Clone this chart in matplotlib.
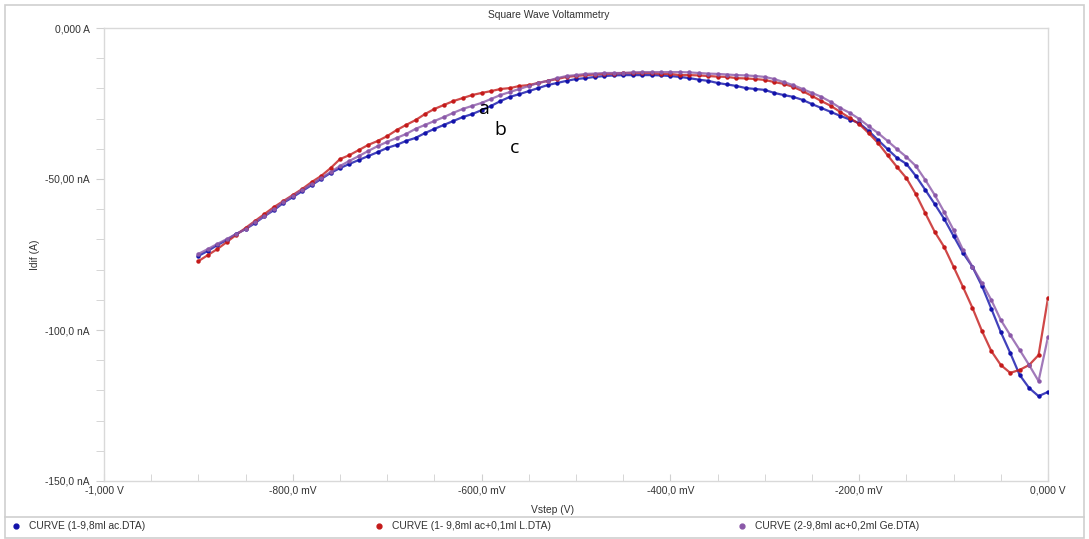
import numpy as np
import matplotlib
matplotlib.use("Agg")
import matplotlib.pyplot as plt
from matplotlib.patches import Rectangle
from matplotlib.lines import Line2D
from matplotlib.ticker import FixedLocator, MultipleLocator

# Step potential (mV), 10 mV grid from -900 mV to 0 mV
vstep_mv = np.arange(-900, 1, 10)

# Differential current (nA) for each curve
idif_ac = [
    -75.5, -73.8, -71.9, -70.2, -68.2, -66.6, -64.6, -62.3, -60.3, -57.9,
    -56.0, -54.0, -52.0, -50.0, -48.0, -46.4, -45.0, -43.7, -42.4, -41.1,
    -39.7, -38.7, -37.4, -36.4, -34.8, -33.4, -32.1, -30.8, -29.5, -28.5,
    -27.2, -25.8, -24.2, -22.8, -21.9, -20.9, -19.9, -18.9, -18.2, -17.5,
    -16.9, -16.6, -16.2, -15.9, -15.7, -15.6, -15.6, -15.6, -15.6, -15.7,
    -15.9, -16.2, -16.6, -17.1, -17.5, -18.2, -18.7, -19.2, -19.9, -20.2,
    -20.5, -21.5, -22.2, -22.8, -23.8, -25.2, -26.5, -27.8, -29.1, -30.3,
    -31.5, -34.1, -37.1, -40.1, -43.0, -45.0, -49.0, -53.6, -58.3, -63.2,
    -68.9, -74.5, -79.1, -85.4, -93.0, -100.7, -107.6, -114.9, -119.2, -121.9,
    -120.5,
]
idif_ac_l = [
    -77.2, -75.2, -73.2, -70.9, -68.5, -66.2, -63.9, -61.6, -59.3, -57.3,
    -55.3, -53.3, -51.0, -49.0, -46.4, -43.4, -42.1, -40.4, -38.7, -37.4,
    -35.8, -33.8, -32.1, -30.5, -28.5, -26.8, -25.5, -24.2, -23.2, -22.2,
    -21.5, -20.9, -20.2, -19.9, -19.2, -18.9, -18.2, -17.5, -16.9, -16.2,
    -15.9, -15.6, -15.4, -15.2, -15.1, -14.9, -14.9, -14.9, -14.9, -15.2,
    -15.2, -15.6, -15.6, -15.7, -15.9, -16.1, -16.2, -16.6, -16.7, -16.9,
    -17.2, -17.9, -18.5, -19.5, -20.9, -22.5, -24.2, -25.8, -27.8, -29.8,
    -31.8, -34.8, -38.1, -42.1, -46.0, -49.7, -55.0, -61.3, -67.5, -72.5,
    -79.1, -85.8, -92.7, -100.3, -107.0, -111.6, -114.2, -113.2, -111.6, -108.3,
    -89.4,
]
idif_ac_ge = [
    -74.8, -73.2, -71.5, -69.9, -68.2, -66.6, -64.2, -62.3, -59.9, -57.6,
    -55.6, -53.6, -51.7, -49.7, -47.7, -45.7, -44.0, -42.4, -40.7, -39.1,
    -37.7, -36.4, -35.1, -33.4, -32.1, -30.8, -29.5, -28.1, -26.8, -25.8,
    -24.8, -23.5, -22.2, -21.2, -20.2, -19.2, -18.2, -17.5, -16.6, -15.9,
    -15.6, -15.2, -15.1, -14.9, -14.9, -14.9, -14.7, -14.6, -14.6, -14.6,
    -14.6, -14.6, -14.7, -14.9, -15.1, -15.2, -15.4, -15.6, -15.7, -15.9,
    -16.2, -16.9, -17.9, -18.9, -20.2, -21.5, -22.8, -24.5, -26.5, -28.1,
    -30.1, -32.5, -34.8, -37.4, -40.1, -42.7, -45.7, -50.3, -55.3, -60.9,
    -66.9, -73.5, -79.1, -84.4, -90.1, -96.7, -101.7, -106.6, -111.6, -116.9,
    -102.3,
]

series_labels = [
    "CURVE (1-9,8ml ac.DTA)",
    "CURVE (1- 9,8ml ac+0,1ml L.DTA)",
    "CURVE (2-9,8ml ac+0,2ml Ge.DTA)",
]
series_colors = ["#1212aa", "#c41a1a", "#8a58a8"]

x_tick_values = [-1.0, -0.8, -0.6, -0.4, -0.2, 0.0]
x_tick_labels = ["-1,000 V", "-800,0 mV", "-600,0 mV", "-400,0 mV", "-200,0 mV", "0,000 V"]
y_tick_values = [0.0, -50.0, -100.0, -150.0]
y_tick_labels = ["0,000 A", "-50,00 nA", "-100,0 nA", "-150,0 nA"]

W, H = 1089, 539
fig = plt.figure(figsize=(W / 100, H / 100), dpi=100)
fig.patch.set_facecolor("white")
plt.rcParams["font.family"] = ["Liberation Sans", "DejaVu Sans"]
txt_col = "#333333"
fs = 7.4


def fx(px):
    return px / W


def fy(py):
    return 1 - py / H


# outer frame and legend strip
frame_col = "#cfcfcf"
fig.add_artist(Rectangle((fx(5), fy(538)), fx(1084) - fx(5), fy(5) - fy(538),
                         transform=fig.transFigure, fill=False, ec=frame_col, lw=1.2))
fig.add_artist(Line2D([fx(5), fx(1084)], [fy(517), fy(517)],
                      transform=fig.transFigure, color=frame_col, lw=1.2))

ax = fig.add_axes([fx(104), fy(481), fx(1048) - fx(104), fy(28) - fy(481)])
for s in ax.spines.values():
    s.set_color("#d9d9d9")
    s.set_linewidth(1.0)

v = vstep_mv / 1000.0
for y, c in zip([idif_ac, idif_ac_l, idif_ac_ge], series_colors):
    ax.plot(v, y, color=c, lw=1.6, alpha=0.8, zorder=2)
    ax.plot(v, y, ls="none", marker="o", ms=3.2, mfc=c, mec=c, mew=0, zorder=3)

ax.set_xlim(-1.0, 0.0)
ax.set_ylim(-150, 0)
ax.xaxis.set_major_locator(FixedLocator(x_tick_values))
ax.set_xticklabels(x_tick_labels)
ax.yaxis.set_major_locator(FixedLocator(y_tick_values))
ax.set_yticklabels(y_tick_labels)
ax.xaxis.set_minor_locator(MultipleLocator(0.05))
ax.yaxis.set_minor_locator(MultipleLocator(10))
ax.tick_params(axis="both", which="both", color="#d0d0d0", labelsize=fs,
               labelcolor=txt_col)
ax.tick_params(axis="x", which="both", length=5, direction="in", pad=3)
ax.tick_params(axis="y", which="both", length=6, direction="out", pad=4)

fig.text(fx(549), fy(15), "Square Wave Voltammetry", fontsize=fs, color=txt_col,
         ha="center", va="center")
fig.text(fx(553), fy(510), "Vstep (V)", fontsize=fs, color=txt_col,
         ha="center", va="center")
fig.text(fx(35), fy(255), "Idif (A)", fontsize=fs, color=txt_col,
         rotation=90, ha="center", va="center")

# curve letters
for txt, (xv, yv) in zip(["a", "b", "c"], [(-0.5975, -26.8), (-0.58, -33.8), (-0.565, -39.8)]):
    ax.text(xv, yv, txt, fontsize=14, color="black", ha="center", va="center",
            family=["Open Sans", "DejaVu Sans"], zorder=5)

# legend strip along the bottom
for lx, lab, c in zip([16, 379, 742], series_labels, series_colors):
    fig.add_artist(Line2D([fx(lx)], [fy(526)], transform=fig.transFigure,
                          marker="o", ms=3.5, color=c, mec=c))
    fig.text(fx(lx + 13), fy(526), lab, fontsize=fs, color=txt_col, va="center")

fig.savefig("out.png", dpi=100, facecolor="white")
